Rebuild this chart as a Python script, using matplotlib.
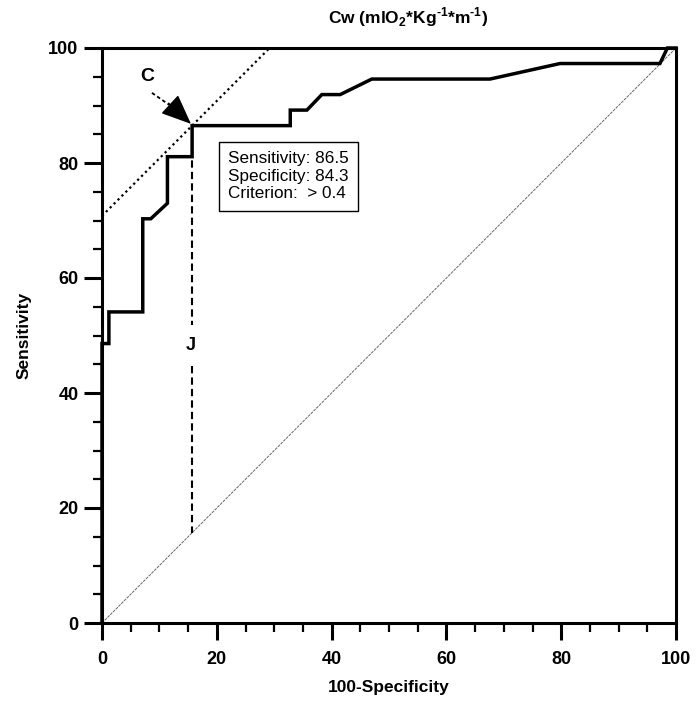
import matplotlib
matplotlib.use("Agg")
import matplotlib.pyplot as plt

# ROC curve data (100-Specificity, Sensitivity)
fpr = [0, 0, 1.2, 1.2, 7.1, 7.1, 8.5, 11.4, 11.4, 15.7, 15.7, 32.8, 32.8, 35.7,
       38.3, 41.5, 47.0, 67.6, 79.8, 97.2, 98.5, 100]
sens = [0, 48.6, 48.6, 54.1, 54.1, 70.3, 70.3, 73.0, 81.1, 81.1, 86.5, 86.5, 89.2, 89.2,
        91.9, 91.9, 94.6, 94.6, 97.3, 97.3, 100, 100]

# optimal criterion point
opt_fpr = 15.7
opt_sens = 86.5
box_lines = ["Sensitivity: 86.5", "Specificity: 84.3", "Criterion:  > 0.4"]

xticks = [0, 20, 40, 60, 80, 100]
yticks = [0, 20, 40, 60, 80, 100]

fam = ['Liberation Sans', 'DejaVu Sans']

fig = plt.figure(figsize=(6.96, 7.01), dpi=100)
ax = fig.add_axes([102/696, 1-623/701, (676-102)/696, (623-48)/701])
ax.set_xlim(0, 100)
ax.set_ylim(0, 100)

# diagonal reference
ax.plot([0, 100], [0, 100], color='#666666', lw=0.7, ls=(0, (3, 1)), zorder=2)
# tangent (C) line slope 1 through optimal point
b = opt_sens - opt_fpr
ax.plot([0, 100 - b], [b, 100], color='black', lw=1.6, ls=(0, (1, 1.5)), zorder=3)
# Youden J line
gap_top, gap_bot = 51.8, 44.7
ax.plot([opt_fpr, opt_fpr], [opt_sens, gap_top], color='black', lw=1.5, ls=(0, (3.5, 2)), zorder=3)
ax.plot([opt_fpr, opt_fpr], [gap_bot, opt_fpr], color='black', lw=1.5, ls=(0, (3.5, 2)), zorder=3)
ax.text(opt_fpr - 0.3, 48.3, "J", fontsize=13, fontweight='bold', family=fam,
        ha='center', va='center')

# ROC curve
ax.plot(fpr, sens, color='black', lw=2.5, solid_joinstyle='miter', zorder=5, clip_on=False)

# C arrow
ax.plot([8.7, 12.3], [92.2, 89.7], color='black', lw=1.3, ls=(0, (2, 1.5)), zorder=4)
ax.annotate("", xy=(opt_fpr - 0.2, opt_sens + 0.3), xytext=(11.6, 90.4),
            arrowprops=dict(arrowstyle='-|>,head_length=1.9,head_width=0.8',
                            color='black', lw=1.0, shrinkA=0, shrinkB=0), zorder=6)
ax.text(7.8, 95.1, "C", fontsize=14, fontweight='bold', family=fam,
        ha='center', va='center')

# info box
ax.text(22.0, 77.7, "\n".join(box_lines), fontsize=12.3, family=fam,
        ha='left', va='center', linespacing=1.2,
        bbox=dict(boxstyle='square,pad=0.55', fc='white', ec='black', lw=1.0), zorder=7)

# axes styling
for s in ax.spines.values():
    s.set_linewidth(2.2)
ax.set_xticks(xticks)
ax.set_yticks(yticks)
ax.set_xticks(range(0, 101, 5), minor=True)
ax.set_yticks(range(0, 101, 5), minor=True)
ax.tick_params(axis='x', which='major', direction='out', length=12, width=2.2, labelsize=13, pad=8)
ax.tick_params(axis='y', which='major', direction='out', length=13, width=2.2, labelsize=13, pad=4)
ax.tick_params(which='minor', direction='out', length=6.5, width=1.6)
for lab in ax.get_xticklabels() + ax.get_yticklabels():
    lab.set_fontweight('bold')
    lab.set_family(fam)

ax.set_xlabel("100-Specificity", fontsize=12.5, fontweight='bold', family=fam, labelpad=9)
ax.set_ylabel("Sensitivity", fontsize=12.5, fontweight='bold', family=fam, labelpad=12)

fig.text(408/696, 1-17/701, "Cw (mlO$_\\mathregular{2}$*Kg$^{\\mathregular{\u20101}}$*m$^{\\mathregular{\u20101}}$)",
         fontsize=12.5, fontweight='bold', family=fam, ha='center', va='center')

fig.savefig("out.png", dpi=100)
